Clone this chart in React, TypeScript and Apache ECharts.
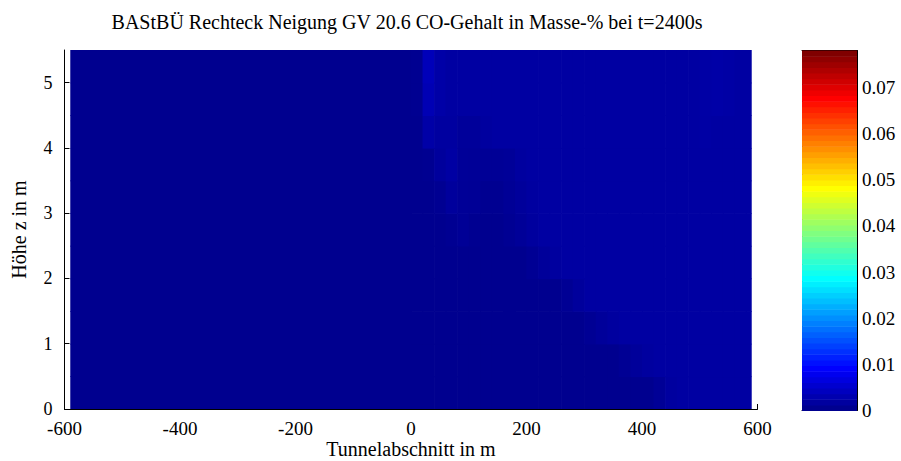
import React, { useEffect, useRef } from "react";
import * as echarts from "echarts";

// ---- Data (CO-Gehalt in Masse-%) ----
const TITLE = "BAStBÜ Rechteck Neigung GV 20.6 CO-Gehalt in Masse-% bei t=2400s";
const X_NAME = "Tunnelabschnitt in m";
const Y_NAME = "Höhe z in m";

const xTicks = [-600, -400, -200, 0, 200, 400, 600];
const yTicks = [0, 1, 2, 3, 4, 5];
const cbTicks = [0, 0.01, 0.02, 0.03, 0.04, 0.05, 0.06, 0.07];
const C_MAX = 0.078;
const X_MIN = -600;
const X_MAX = 600;
const Z_MAX = 5.5;

// Cell edges along the tunnel (m): one block for the west half, 20 m cells east of 0
const xEdges = [
  -590, 0, 20, 40, 60, 80, 100, 120, 140, 160, 180, 200, 220, 240, 260, 280, 300,
  320, 340, 360, 380, 400, 420, 440, 460, 480, 500, 520, 540, 560, 580, 590,
];
// Cell edges in height (m)
const zEdges = [0, 0.5, 1, 1.5, 2, 2.5, 3, 3.5, 4, 4.5, 5, 5.5];

// One row of CO values per height band (bottom to top), 31 cells each
const co_z0_0 = [
  0.0012, 0.0012, 0.0012, 0.0012, 0.0012, 0.0012, 0.0012, 0.0012, 0.0012, 0.0012, 0.0012,
  0.0012, 0.0012, 0.0012, 0.0012, 0.0012, 0.0012, 0.0012, 0.0012, 0.0012, 0.0012, 0.0012,
  0.0017, 0.0024, 0.0026, 0.0026, 0.0026, 0.0026, 0.0026, 0.0026, 0.0026,
];
const co_z0_5 = [
  0.0012, 0.0012, 0.0012, 0.0012, 0.0012, 0.0012, 0.0012, 0.0012, 0.0012, 0.0012, 0.0012,
  0.0012, 0.0012, 0.0012, 0.0012, 0.0012, 0.0012, 0.0012, 0.0012, 0.0016, 0.0020, 0.0024,
  0.0026, 0.0026, 0.0026, 0.0026, 0.0026, 0.0026, 0.0026, 0.0026, 0.0026,
];
const co_z1_0 = [
  0.0012, 0.0012, 0.0012, 0.0012, 0.0012, 0.0012, 0.0012, 0.0012, 0.0012, 0.0012, 0.0012,
  0.0012, 0.0012, 0.0012, 0.0012, 0.0012, 0.0016, 0.0020, 0.0024, 0.0026, 0.0026, 0.0026,
  0.0026, 0.0026, 0.0026, 0.0026, 0.0026, 0.0026, 0.0026, 0.0026, 0.0026,
];
const co_z1_5 = [
  0.0012, 0.0012, 0.0012, 0.0012, 0.0012, 0.0012, 0.0012, 0.0012, 0.0012, 0.0012, 0.0012,
  0.0012, 0.0012, 0.0012, 0.0016, 0.0022, 0.0026, 0.0026, 0.0026, 0.0026, 0.0026, 0.0026,
  0.0026, 0.0026, 0.0026, 0.0026, 0.0026, 0.0026, 0.0026, 0.0026, 0.0026,
];
const co_z2_0 = [
  0.0012, 0.0012, 0.0012, 0.0012, 0.0012, 0.0012, 0.0012, 0.0012, 0.0012, 0.0012, 0.0012,
  0.0016, 0.0020, 0.0024, 0.0026, 0.0026, 0.0026, 0.0026, 0.0026, 0.0026, 0.0026, 0.0026,
  0.0026, 0.0026, 0.0026, 0.0026, 0.0026, 0.0026, 0.0026, 0.0026, 0.0026,
];
const co_z2_5 = [
  0.0012, 0.0012, 0.0012, 0.0012, 0.0014, 0.0017, 0.0013, 0.0012, 0.0012, 0.0015, 0.0019,
  0.0023, 0.0026, 0.0026, 0.0026, 0.0026, 0.0026, 0.0026, 0.0026, 0.0026, 0.0026, 0.0026,
  0.0026, 0.0026, 0.0026, 0.0026, 0.0026, 0.0026, 0.0026, 0.0026, 0.0026,
];
const co_z3_0 = [
  0.0012, 0.0012, 0.0012, 0.0014, 0.0022, 0.0018, 0.0017, 0.0013, 0.0013, 0.0017, 0.0021,
  0.0025, 0.0026, 0.0026, 0.0026, 0.0026, 0.0026, 0.0026, 0.0026, 0.0026, 0.0026, 0.0026,
  0.0026, 0.0026, 0.0026, 0.0026, 0.0026, 0.0026, 0.0026, 0.0026, 0.0026,
];
const co_z3_5 = [
  0.0012, 0.0012, 0.0013, 0.0022, 0.0027, 0.0019, 0.0018, 0.0017, 0.0017, 0.0019, 0.0024,
  0.0026, 0.0026, 0.0026, 0.0026, 0.0026, 0.0026, 0.0026, 0.0026, 0.0026, 0.0026, 0.0026,
  0.0026, 0.0026, 0.0026, 0.0026, 0.0026, 0.0026, 0.0026, 0.0026, 0.0026,
];
const co_z4_0 = [
  0.0012, 0.0012, 0.0030, 0.0025, 0.0025, 0.0020, 0.0020, 0.0024, 0.0026, 0.0026, 0.0026,
  0.0026, 0.0026, 0.0026, 0.0026, 0.0026, 0.0026, 0.0026, 0.0026, 0.0026, 0.0026, 0.0026,
  0.0026, 0.0026, 0.0026, 0.0026, 0.0028, 0.0026, 0.0026, 0.0026, 0.0026,
];
const co_z4_5 = [
  0.0012, 0.0013, 0.0040, 0.0030, 0.0026, 0.0026, 0.0026, 0.0026, 0.0026, 0.0026, 0.0026,
  0.0026, 0.0026, 0.0026, 0.0026, 0.0026, 0.0026, 0.0026, 0.0026, 0.0026, 0.0026, 0.0026,
  0.0026, 0.0026, 0.0026, 0.0026, 0.0029, 0.0030, 0.0029, 0.0026, 0.0026,
];
const co_z5_0 = [
  0.0012, 0.0013, 0.0044, 0.0030, 0.0026, 0.0026, 0.0026, 0.0026, 0.0026, 0.0026, 0.0026,
  0.0026, 0.0026, 0.0026, 0.0026, 0.0026, 0.0026, 0.0026, 0.0026, 0.0026, 0.0026, 0.0026,
  0.0026, 0.0026, 0.0026, 0.0026, 0.0029, 0.0030, 0.0029, 0.0026, 0.0026,
];
const coRows = [
  co_z0_0, co_z0_5, co_z1_0, co_z1_5, co_z2_0, co_z2_5,
  co_z3_0, co_z3_5, co_z4_0, co_z4_5, co_z5_0,
];

const COLOR_LEVELS = 64; // MATLAB jet(64)

// ---- helpers ----
const clamp01 = (v: number) => Math.max(0, Math.min(1, v));
function jet(t: number): string {
  const tt = clamp01(t);
  const r = clamp01(1.5 - Math.abs(4 * tt - 3));
  const g = clamp01(1.5 - Math.abs(4 * tt - 2));
  const b = clamp01(1.5 - Math.abs(4 * tt - 1));
  const h = (x: number) => Math.round(x * 255).toString(16).padStart(2, "0");
  return "#" + h(r) + h(g) + h(b);
}

const FONT = "Liberation Serif";

export default function App() {
  const ref = useRef<HTMLDivElement>(null);

  useEffect(() => {
    document.body.style.margin = "0";
    if (!ref.current) return;
    const chart = echarts.init(ref.current, undefined, { renderer: "svg" });

    const cells: number[][] = [];
    coRows.forEach((row, zi) => {
      row.forEach((v, xi) => {
        cells.push([xEdges[xi], xEdges[xi + 1], zEdges[zi], zEdges[zi + 1], v]);
      });
    });
    const bands: number[][] = [];
    for (let i = 0; i < COLOR_LEVELS; i++) bands.push([i]);

    const tick = { color: "#000", fontFamily: FONT, fontSize: 19 };
    const yTick = { color: "#000", fontFamily: FONT, fontSize: 18 };
    const big = { color: "#000", fontFamily: FONT, fontSize: 20 };

    const option: any = {
      animation: false,
      backgroundColor: "#fff",
      title: {
        text: TITLE,
        left: 407,
        top: 12,
        padding: 0,
        textAlign: "center",
        textStyle: { ...big, fontWeight: "normal" },
      },
      grid: [
        { left: 64.5, top: 50, width: 693, height: 359, outerBoundsMode: "none", containLabel: false },
        { left: 802, top: 50.5, width: 55, height: 360, outerBoundsMode: "none", containLabel: false },
      ],
      xAxis: [
        {
          gridIndex: 0,
          type: "value",
          min: X_MIN,
          max: X_MAX,
          interval: 200,
          name: X_NAME,
          nameLocation: "middle",
          nameGap: 30,
          nameMoveOverlap: false,
          nameTextStyle: { ...big, lineHeight: 20 },
          axisLine: { show: true, onZero: false, lineStyle: { color: "#000", width: 1 } },
          axisTick: { show: true, inside: true, length: 5, lineStyle: { color: "#000" }, customValues: xTicks },
          axisLabel: { ...tick, margin: 10, customValues: xTicks, hideOverlap: false },
          splitLine: { show: false },
        },
        {
          gridIndex: 1,
          type: "value",
          min: 0,
          max: 1,
          position: "bottom",
          axisLine: { show: true, onZero: false, lineStyle: { color: "#000" } },
          axisTick: { show: false },
          axisLabel: { show: false },
          splitLine: { show: false },
        },
        {
          gridIndex: 1,
          type: "value",
          min: 0,
          max: 1,
          position: "top",
          axisLine: { show: true, onZero: false, lineStyle: { color: "#000" } },
          axisTick: { show: false },
          axisLabel: { show: false },
          splitLine: { show: false },
        },
      ],
      yAxis: [
        {
          gridIndex: 0,
          type: "value",
          min: 0,
          max: Z_MAX,
          interval: 1,
          name: Y_NAME,
          nameLocation: "middle",
          nameGap: 36,
          nameMoveOverlap: false,
          nameRotate: 90,
          nameTextStyle: big,
          axisLine: { show: true, onZero: false, lineStyle: { color: "#000", width: 1 } },
          axisTick: { show: true, inside: true, length: 5, lineStyle: { color: "#000" }, customValues: yTicks },
          axisLabel: { ...yTick, margin: 12, customValues: yTicks, hideOverlap: false },
          splitLine: { show: false },
        },
        {
          gridIndex: 1,
          type: "value",
          min: 0,
          max: C_MAX,
          position: "right",
          axisLine: { show: true, onZero: false, lineStyle: { color: "#000" } },
          axisTick: { show: true, inside: true, length: 4, lineStyle: { color: "#000" }, customValues: cbTicks },
          axisLabel: {
            ...tick,
            margin: 5,
            hideOverlap: false,
            customValues: cbTicks,
            formatter: (v: number) => (v === 0 ? "0" : v.toFixed(2)),
          },
          splitLine: { show: false },
        },
        {
          gridIndex: 1,
          type: "value",
          min: 0,
          max: C_MAX,
          position: "left",
          axisLine: { show: true, onZero: false, lineStyle: { color: "#000" } },
          axisTick: { show: true, inside: true, length: 4, lineStyle: { color: "#000" }, customValues: cbTicks },
          axisLabel: { show: false },
          splitLine: { show: false },
        },
      ],
      series: [
        {
          type: "custom",
          xAxisIndex: 0,
          yAxisIndex: 0,
          clip: true,
          silent: true,
          encode: { x: [0, 1], y: [2, 3] },
          data: cells,
          renderItem: (_params: any, api: any) => {
            const x0 = api.value(0);
            const x1 = api.value(1);
            const z0 = api.value(2);
            const z1 = api.value(3);
            const v = api.value(4);
            const p0 = api.coord([x0, z1]);
            const p1 = api.coord([x1, z0]);
            const atRight = x1 >= xEdges[xEdges.length - 1];
            return {
              type: "rect",
              shape: {
                x: p0[0],
                y: p0[1],
                width: p1[0] - p0[0] + (atRight ? 0 : 0.7),
                height: p1[1] - p0[1] + 0.7,
              },
              style: { fill: jet(v / C_MAX), stroke: null },
            };
          },
          z: 1,
        },
        {
          type: "custom",
          xAxisIndex: 1,
          yAxisIndex: 1,
          silent: true,
          data: bands,
          renderItem: (_params: any, api: any) => {
            const i = api.value(0);
            const lo = (i * C_MAX) / COLOR_LEVELS;
            const hi = ((i + 1) * C_MAX) / COLOR_LEVELS;
            const p0 = api.coord([0, hi]);
            const p1 = api.coord([1, lo]);
            return {
              type: "rect",
              shape: { x: p0[0], y: p0[1], width: p1[0] - p0[0], height: p1[1] - p0[1] + 0.6 },
              style: { fill: jet((i + 1) / COLOR_LEVELS), stroke: null },
            };
          },
          z: 1,
        },
      ],
    };

    chart.setOption(option);
    return () => chart.dispose();
  }, []);

  return <div ref={ref} style={{ width: 901, height: 461 }} />;
}
